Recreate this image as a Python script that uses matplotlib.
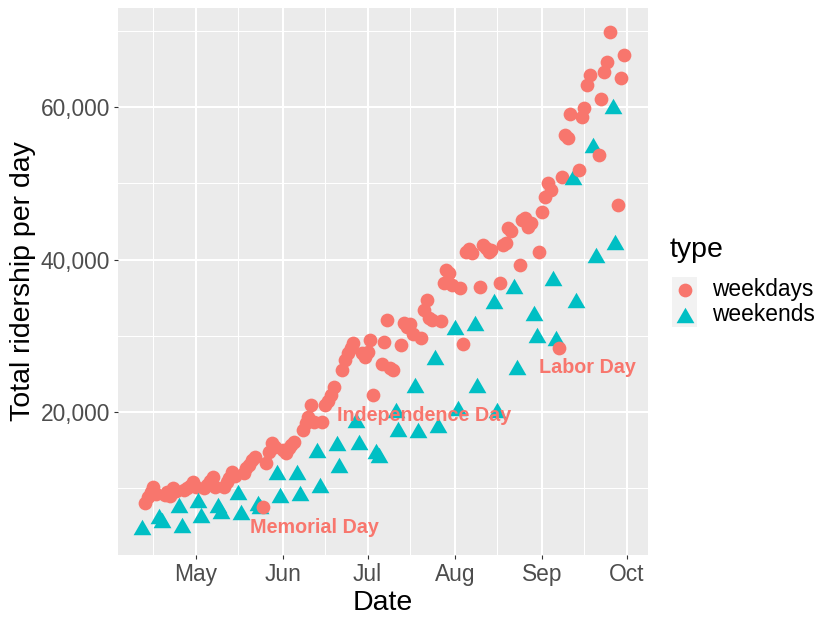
import matplotlib
matplotlib.use('Agg')
import matplotlib.pyplot as plt
import matplotlib.dates as mdates
from matplotlib.ticker import FuncFormatter, FixedLocator
from matplotlib.path import Path
from matplotlib.patches import Rectangle
import pandas as pd
import numpy as np

plt.rcParams['font.family'] = ['Liberation Sans', 'DejaVu Sans']

# ---------------- data ----------------
start_date = '2020-04-12'
end_date = '2020-09-30'

# weekday riders (Mon-Fri, in date order), thousands
weekday_values = [
    8.1, 8.9, 9.5, 10.2, 9.2,      # Apr 13-17
    9.1, 9.5, 9.0, 10.0, 9.6,      # Apr 20-24
    9.8, 10.0, 10.3, 10.8, 10.2,   # Apr 27-May 1
    10.0, 10.4, 11.0, 11.5, 10.2,  # May 4-8
    10.2, 10.8, 11.4, 12.1, 11.6,  # May 11-15
    12.0, 12.6, 13.0, 13.7, 14.1,  # May 18-22
    7.5, 13.3, 14.8, 15.9, 15.4,   # May 25-29
    15.0, 14.6, 15.3, 15.7, 16.1,  # Jun 1-5
    17.6, 18.5, 19.3, 20.9, 18.7,  # Jun 8-12
    18.7, 20.9, 21.5, 22.2, 23.3,  # Jun 15-19
    25.5, 26.8, 27.7, 28.4, 29.0,  # Jun 22-26
    27.7, 27.2, 27.9, 29.4, 22.2,  # Jun 29-Jul 3
    26.3, 29.2, 32.1, 25.8, 25.5,  # Jul 6-10
    28.8, 31.7, 31.2, 31.6, 30.3,  # Jul 13-17
    29.7, 33.4, 34.7, 32.3, 32.1,  # Jul 20-24
    32.0, 36.9, 38.6, 38.3, 36.7,  # Jul 27-31
    36.3, 28.9, 41.0, 41.4, 40.9,  # Aug 3-7
    36.4, 41.9, 41.5, 41.0, 41.3,  # Aug 10-14
    36.9, 41.9, 42.2, 44.1, 43.8,  # Aug 17-21
    39.3, 45.2, 45.5, 44.3, 44.8,  # Aug 24-28
    41.0, 46.2, 48.2, 50.0, 49.1,  # Aug 31-Sep 4
    28.4, 50.8, 56.3, 56.0, 59.1,  # Sep 7-11
    51.7, 58.7, 59.9, 62.9, 64.2,  # Sep 14-18
    53.7, 61.0, 64.6, 65.9, 69.8,  # Sep 21-25
    47.1, 63.8, 66.8,              # Sep 28-30
]

# weekend riders (Sat/Sun, in date order), thousands
weekend_values = [
    4.9,                     # Apr 12
    6.4, 5.9, 7.8, 5.2, 8.5, 6.5, 7.8, 7.0, 9.5, 6.9,
    8.1, 7.7, 12.2, 9.1, 12.2, 9.4, 15.0, 10.4, 15.9, 13.0,
    19.0, 16.1, 14.9, 14.4, 20.3, 17.8, 23.5, 17.6, 27.2, 18.3,
    31.1, 20.5, 31.7, 23.5, 34.6, 20.3, 36.5, 25.9, 33.0, 30.1,
    37.6, 29.7, 50.8, 34.7, 55.0, 40.6, 60.1, 42.3,
]

type_labels = ['weekdays', 'weekends']
type_colors = ['#F8766D', '#00BFC4']

holiday_labels = ['Memorial Day', 'Independence Day', 'Labor Day']
holiday_label_dates = ['2020-06-12', '2020-07-21', '2020-09-17']
holiday_label_values = [4.9, 19.6, 25.8]

month_ticks = ['2020-05-01', '2020-06-01', '2020-07-01', '2020-08-01', '2020-09-01', '2020-10-01']
month_minor = ['2020-04-16', '2020-05-16', '2020-06-16', '2020-07-16', '2020-08-16', '2020-09-16']
y_major = [20000, 40000, 60000]
y_minor = [10000, 30000, 50000, 70000]

# ---------------- build frame ----------------
dates = pd.date_range(start_date, end_date, freq='D')
is_we = dates.dayofweek >= 5
df = pd.DataFrame({'date': dates, 'type': np.where(is_we, 'weekends', 'weekdays')})
df['riders'] = 0.0
df.loc[~is_we, 'riders'] = np.array(weekday_values) * 1000
df.loc[is_we, 'riders'] = np.array(weekend_values) * 1000

# ---------------- figure ----------------
W, H = 830, 623
fig = plt.figure(figsize=(W / 100, H / 100), dpi=100)
px = lambda l, t, r, b: [l / W, 1 - b / H, (r - l) / W, (b - t) / H]
ax = fig.add_axes(px(118, 8, 648, 555))
ax.set_facecolor('#EBEBEB')
for s in ax.spines.values():
    s.set_visible(False)

tri = Path([(-1, -0.866), (1, -0.866), (0, 0.866), (-1, -0.866)],
           [Path.MOVETO, Path.LINETO, Path.LINETO, Path.CLOSEPOLY])
markers = {'weekdays': 'o', 'weekends': tri}
sizes = {'weekdays': 98, 'weekends': 165}
colors = dict(zip(type_labels, type_colors))

xnum = mdates.date2num(df['date'])
for i, row in enumerate(df.itertuples()):
    ax.scatter(xnum[i], row.riders, marker=markers[row.type], s=sizes[row.type],
               color=colors[row.type], linewidths=0, zorder=3 + i * 0.001)

# limits with 5% expansion
xr = xnum.max() - xnum.min()
ax.set_xlim(xnum.min() - 0.05 * xr, xnum.max() + 0.05 * xr)
ax.set_ylim(1250, 73000)

ax.xaxis.set_major_locator(FixedLocator(mdates.date2num(pd.to_datetime(month_ticks))))
ax.xaxis.set_minor_locator(FixedLocator(mdates.date2num(pd.to_datetime(month_minor))))
ax.xaxis.set_major_formatter(FuncFormatter(lambda v, p: mdates.num2date(v).strftime('%b')))
ax.yaxis.set_major_locator(FixedLocator(y_major))
ax.yaxis.set_minor_locator(FixedLocator(y_minor))
ax.yaxis.set_major_formatter(FuncFormatter(lambda v, p: f'{int(v):,}'))

ax.grid(which='major', color='white', linewidth=1.5, zorder=0)
ax.grid(which='minor', color='white', linewidth=0.75, zorder=0)
ax.set_axisbelow(True)
ax.tick_params(which='major', length=2.9, width=0.8, color='#333333', labelsize=16.4,
               labelcolor='#4D4D4D', pad=3)
ax.tick_params(which='minor', length=0)

ax.set_xlabel('Date', fontsize=20.5, color='black', labelpad=3)
ax.set_ylabel('Total ridership per day', fontsize=20.5, color='black', labelpad=3)

for lab, d, v in zip(holiday_labels, holiday_label_dates, holiday_label_values):
    ax.text(mdates.date2num(pd.Timestamp(d)), v * 1000, lab, color='#F8766D',
            fontsize=14.2, fontweight='bold', ha='center', va='center', zorder=10)

# ---------------- legend ----------------
lax = fig.add_axes([0, 0, 1, 1])
lax.set_xlim(0, W)
lax.set_ylim(H, 0)
lax.axis('off')
lax.text(670, 250, 'type', fontsize=20.5, ha='left', va='center')
for k, lab in enumerate(type_labels):
    top = 277 + k * 25
    lax.add_patch(Rectangle((672, top), 25, 25, facecolor='#F2F2F2', edgecolor='none'))
    lax.scatter(684.5, top + 12.5, marker=markers[lab], s=sizes[lab], color=colors[lab],
                linewidths=0)
    lax.text(712, top + 12.5, lab, fontsize=16.4, ha='left', va='center')

fig.savefig('out.png', dpi=100)
